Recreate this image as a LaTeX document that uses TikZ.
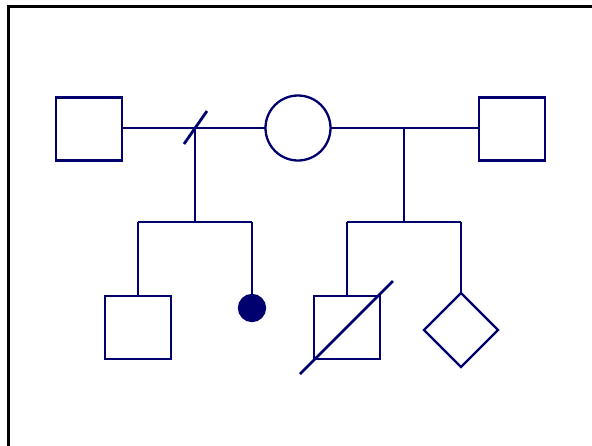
\documentclass[tikz,border=0pt]{standalone}
\usetikzlibrary{shapes.geometric}
\definecolor{ink}{RGB}{0,0,110}
\begin{document}
\begin{tikzpicture}[x=1pt,y=-1pt,
  person/.style={draw=ink, line width=2.3pt, inner sep=0pt, outer sep=0pt},
  male/.style={person, rectangle, minimum width=66pt, minimum height=63pt},
  female/.style={person, circle, minimum size=65pt},
  unknown/.style={person, diamond, minimum size=74pt},
  affected/.style={person, circle, fill=ink, minimum size=26pt},
  link/.style={draw=ink, line width=2.3pt},
  slash/.style={draw=ink, line width=2.8pt}
]
\useasboundingbox (0,0) rectangle (592,445);
% outer frame (continues past the page edge)
\draw[black, line width=3pt] (8,6) rectangle (640,480);

% parents
\node[male]   (f1)  at (89,129)  {};
\node[female] (mom) at (298,128) {};
\node[male]   (f2)  at (512,129) {};

% children
\node[male]     (c1) at (138,327.5) {};
\node[affected] (c2) at (252,308)   {};
\node[male]     (c3) at (347,327.5) {};
\node[unknown]  (c4) at (461,330)   {};

% couple lines
\draw[link] (f1.east |- mom.west) -- (mom.west);
\draw[link] (mom.east) -- (f2.west |- mom.east);

% first family: descent and sibship
\coordinate (d1)  at (195,128);
\coordinate (s1)  at (195,222);
\coordinate (s1l) at (138,222);
\coordinate (s1r) at (252,222);
\draw[link] (d1) -- (s1);
\draw[link] (s1l) -- (s1r);
\draw[link] (s1l) -- (c1.north);
\draw[link] (s1r) -- (c2.north);

% second family: descent and sibship
\coordinate (d2)  at (404,128);
\coordinate (s2)  at (404,222);
\coordinate (s2l) at (347,222);
\coordinate (s2r) at (461,222);
\draw[link] (d2) -- (s2);
\draw[link] (s2l) -- (s2r);
\draw[link] (s2l) -- (c3.north);
\draw[link] (s2r) -- (c4.north);

% separation mark on the first couple line
\coordinate (sepA) at (184,144);
\coordinate (sepB) at (207,111);
\draw[slash] (sepA) -- (sepB);

% deceased mark
\coordinate (decA) at (300,374);
\coordinate (decB) at (393,281);
\draw[slash] (decA) -- (decB);
\end{tikzpicture}
\end{document}
